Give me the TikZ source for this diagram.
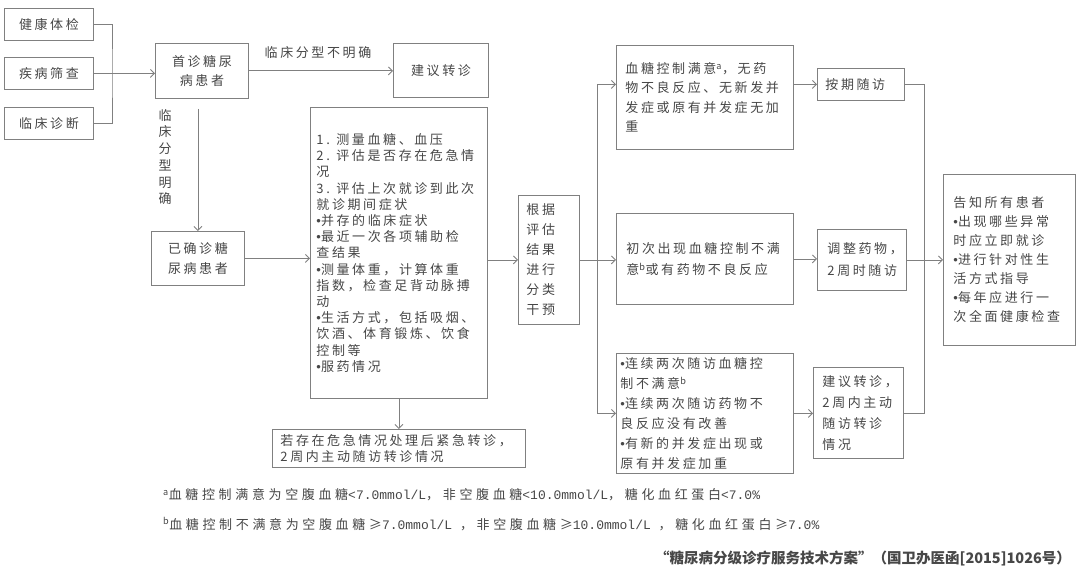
\documentclass[tikz,border=0pt]{standalone}
\usepackage{fontspec}
\setmainfont{Noto Sans CJK SC}[LetterSpace=20]
\newfontfamily\fnfont{Noto Sans CJK SC}[LetterSpace=28]
\newfontfamily\srcfont{Noto Sans CJK SC}
\newfontfamily\lat{Liberation Mono}
\newfontfamily\bulfont{Liberation Sans}
\newcommand\bu{{\bulfont •}}
\usetikzlibrary{arrows.meta}
\definecolor{tc}{gray}{0.28}
\definecolor{lc}{gray}{0.5}
\begin{document}
\begin{tikzpicture}[x=1pt,y=-1pt,
  box/.style={draw=lc, line width=0.9pt, text=tc, anchor=north west, inner ysep=0pt, font=\fontsize{13}{19}\selectfont},
  lbox/.style={box, align=left},
  cbox/.style={box, align=center},
  conn/.style={draw=lc, line width=0.9pt},
  arr/.style={conn, -{Straight Barb[length=4pt,width=8pt]}},
  lbl/.style={text=tc, inner sep=0pt, font=\fontsize{13}{19}\selectfont},
  fn/.style={text=tc, inner sep=0pt, anchor=west, font=\fontsize{13}{16}\fnfont}]
\fill[white] (0,0) rectangle (1080,575);
\useasboundingbox (0,0) rectangle (1080,575);
% left column
\node[cbox, text width=73pt, inner xsep=8pt, minimum height=32pt] (jk) at (4,8) {健康体检};
\node[cbox, text width=73pt, inner xsep=8pt, minimum height=32pt] (jb) at (4,57) {疾病筛查};
\node[cbox, text width=73pt, inner xsep=8pt, minimum height=32pt] (lz) at (4,107) {临床诊断};
\node[cbox, text width=77pt, inner xsep=8pt, minimum height=55pt] (sz) at (155,43) {首诊糖尿\\病患者};
\node[cbox, text width=79pt, inner xsep=8pt, minimum height=54pt] (jy) at (393,43) {建议转诊};
\node[cbox, text width=77pt, inner xsep=8pt, minimum height=54pt, font=\fontsize{13}{20}\selectfont] (yq) at (151,231) {已确诊糖\\尿病患者};
\node[lbl] (l1) at (318,53) {临床分型不明确};
\node[lbl, align=center, font=\fontsize{13}{16.7}\selectfont] (l2) at (165,157) {临\\床\\分\\型\\明\\确};
% middle
\node[lbox, text width=165pt, inner xsep=6pt, minimum height=291pt, font=\fontsize{13}{16.2}\selectfont] (mid) at (310,107) {1. 测量血糖、血压\\2. 评估是否存在危急情\\况\\3. 评估上次就诊到此次\\就诊期间症状\\\bu 并存的临床症状\\\bu 最近一次各项辅助检\\查结果\\\bu 测量体重，计算体重\\指数，检查足背动脉搏\\动\\\bu 生活方式，包括吸烟、\\饮酒、体育锻炼、饮食\\控制等\\\bu 服药情况};
\node[lbox, text width=237pt, inner xsep=8pt, minimum height=38pt, font=\fontsize{13}{16.5}\selectfont] (ruo) at (272,429) {若存在危急情况处理后紧急转诊，\\2周内主动随访转诊情况};
\node[lbox, text width=45pt, inner xsep=8pt, minimum height=129pt, font=\fontsize{13}{20}\selectfont] (gj) at (518,195) {根据\\评估\\结果\\进行\\分类\\干预};
% right part
\node[lbox, text width=159pt, inner xsep=9pt, minimum height=104pt, font=\fontsize{13}{19.5}\selectfont] (b1) at (616,45) {血糖控制满意\textsuperscript{a}，无药\\物不良反应、无新发并\\发症或原有并发症无加\\重};
\node[lbox, text width=157pt, inner xsep=10pt, minimum height=91pt, font=\fontsize{13}{21}\selectfont] (b2) at (616,213) {初次出现血糖控制不满\\意\textsuperscript{b}或有药物不良反应};
\node[lbox, text width=169pt, inner xsep=4pt, minimum height=120pt, font=\fontsize{13}{20}\selectfont] (b3) at (616,353) {\bu 连续两次随访血糖控\\制不满意\textsuperscript{b}\\\bu 连续两次随访药物不\\良反应没有改善\\\bu 有新的并发症出现或\\原有并发症加重};
\node[lbox, text width=71pt, inner xsep=8pt, minimum height=32pt] (aq) at (817,68) {按期随访};
\node[lbox, text width=69pt, inner xsep=10pt, minimum height=61pt, font=\fontsize{13}{22}\selectfont] (tz) at (817,229) {调整药物，\\2周时随访};
\node[lbox, text width=72pt, inner xsep=9pt, minimum height=91pt, font=\fontsize{13}{21}\selectfont] (j2) at (813,367) {建议转诊，\\2周内主动\\随访转诊\\情况};
\node[lbox, text width=112pt, inner xsep=10pt, minimum height=171pt, font=\fontsize{13}{19}\selectfont] (fin) at (943,174) {告知所有患者\\\bu 出现哪些异常\\时应立即就诊\\\bu 进行针对性生\\活方式指导\\\bu 每年应进行一\\次全面健康检查};
% connectors
\coordinate (jct) at (112,73);
\draw[conn] (jk.east) -| (jct) |- (lz.east);
\draw[arr] (jb.east) -- (jb.east -| sz.west);
\draw[arr] (sz.east) -- (sz.east -| jy.west);
\draw[arr] (yq.north |- sz.south) ++(0,10) -- (yq.north);
\draw[arr] (yq.east) -- (yq.east -| mid.west);
\draw[arr] (gj.west -| mid.east) -- (gj.west);
\draw[arr] (mid.south) -- (ruo.north);
\coordinate (sx) at (597,0);
\draw[arr] (gj.east) -- (gj.east -| b2.west);
\draw[conn] (sx |- aq) -- (sx |- b3);
\draw[arr] (sx |- aq) -- (aq -| b1.west);
\draw[arr] (sx |- b3) -- (b3.west);
\draw[arr] (b1.east |- aq) -- (aq.west);
\draw[arr] (b2.east) -- (b2.east -| tz.west);
\draw[arr] (b3.east) -- (b3.east -| j2.west);
\coordinate (rx) at (924,0);
\draw[conn] (aq.east) -- (rx |- aq) -- (rx |- j2) -- (j2.east);
\draw[conn] (tz.east) -- (rx |- tz);
\draw[arr] (rx |- fin) -- (fin.west);
% footnotes
\node[fn] (f1) at (163,495) {\textsuperscript{a}血糖控制满意为空腹血糖{\lat <7.0mmol/L}，非空腹血糖{\lat <10.0mmol/L}，糖化血红蛋白{\lat <7.0\%}};
\node[fn] (f2) at (163,524) {\textsuperscript{b}血糖控制不满意为空腹血糖≥{\lat 7.0mmol/L }，非空腹血糖≥{\lat 10.0mmol/L }，糖化血红蛋白≥{\lat 7.0\%}};
\node[text=tc, inner sep=0pt, anchor=west, font={\fontsize{14.5}{16}\srcfont\bfseries}] (src) at (655,558) {“糖尿病分级诊疗服务技术方案”（国卫办医函[2015]1026号）};
\end{tikzpicture}
\end{document}
